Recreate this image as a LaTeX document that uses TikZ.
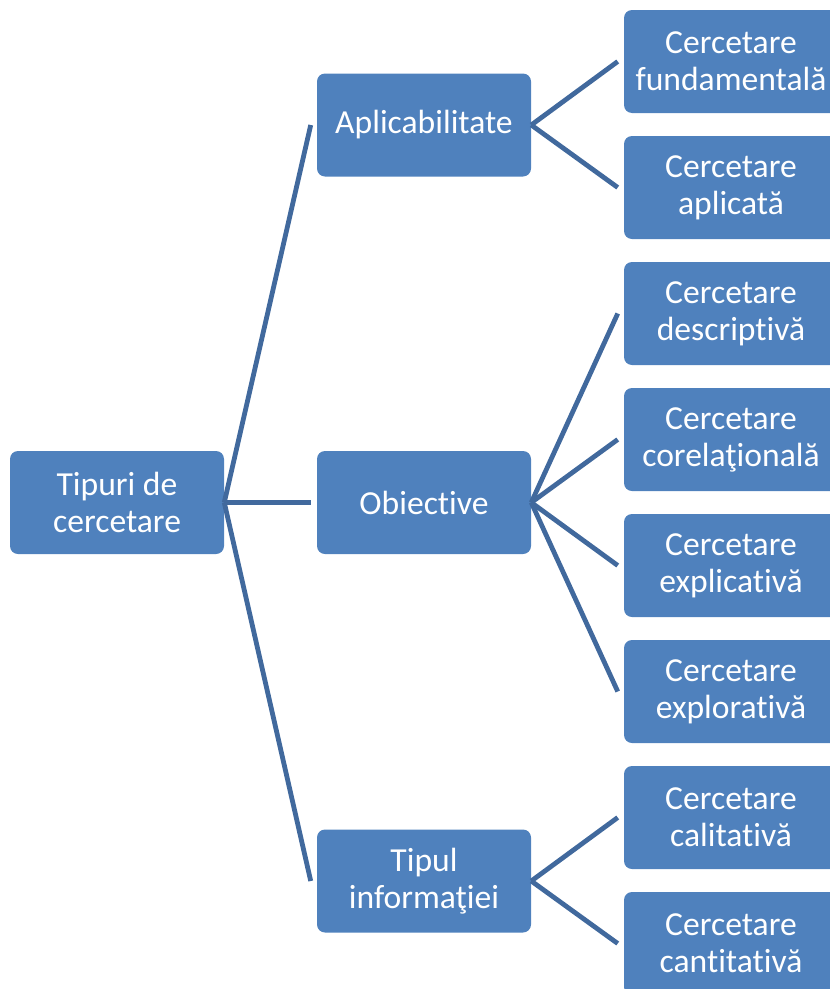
\documentclass[tikz,border=0pt]{standalone}
\usepackage{fontspec}
\setmainfont[Ligatures=NoCommon]{Carlito}
\definecolor{boxfill}{HTML}{4F81BD}
\definecolor{linkcol}{HTML}{41699D}
\tikzset{
  cat/.style={fill=boxfill, draw=none, rounded corners=6pt, text=white,
    minimum width=160.5pt, minimum height=77.25pt, inner sep=0pt,
    align=center, font=\fontsize{25.2}{27.8}\selectfont},
  link/.style={draw=linkcol, line width=3.6pt}
}
\begin{document}
\begin{tikzpicture}[x=0.75pt, y=-0.75pt]
\useasboundingbox (0,0) rectangle (829,989);

% root
\node[cat] (root) at (117,502.5) {Tipuri de\\cercetare};

% first level
\node[cat] (apl) at (424,125)   {Aplicabilitate};
\node[cat] (obi) at (424,502.5) {Obiective};
\node[cat] (inf) at (424,881)   {Tipul\\informaţiei};

% second level
\node[cat] (fund) at (731,61.5)  {Cercetare\\fundamentală};
\node[cat] (aplc) at (731,187.5) {Cercetare\\aplicată};
\node[cat] (desc) at (731,313.5) {Cercetare\\descriptivă};
\node[cat] (corl) at (731,439.5) {Cercetare\\corelaţională};
\node[cat] (expl) at (731,565.5) {Cercetare\\explicativă};
\node[cat] (expr) at (731,691.5) {Cercetare\\explorativă};
\node[cat] (calt) at (731,817.5) {Cercetare\\calitativă};
\node[cat] (cant) at (731,943.5) {Cercetare\\cantitativă};

% connectors
\foreach \t in {apl,obi,inf}
  \draw[link] (root.east) -- ([xshift=-4.5pt]\t.west);
\foreach \t in {fund,aplc}
  \draw[link] (apl.east) -- ([xshift=-4.5pt]\t.west);
\foreach \t in {desc,corl,expl,expr}
  \draw[link] (obi.east) -- ([xshift=-4.5pt]\t.west);
\foreach \t in {calt,cant}
  \draw[link] (inf.east) -- ([xshift=-4.5pt]\t.west);
\end{tikzpicture}
\end{document}
